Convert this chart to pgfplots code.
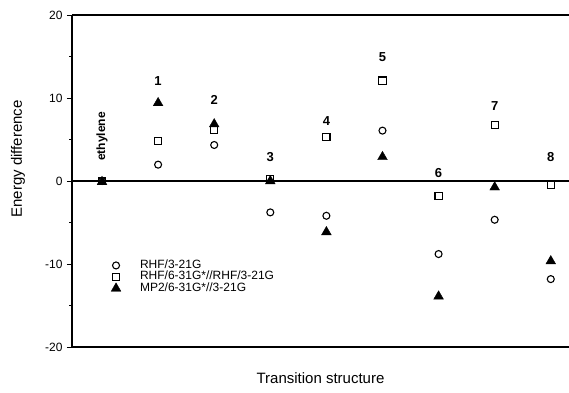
\documentclass[border=0pt]{standalone}
\usepackage{pgfplots}
\pgfplotsset{compat=1.18}
\usepackage{fontspec}
\setmainfont{Liberation Sans}
\begin{document}
\begin{tikzpicture}
\begin{axis}[
  at={(0pt,0pt)}, anchor=south west,
  scale only axis, width=497pt, height=332pt,
  xmin=-0.535, xmax=8.325, ymin=-20, ymax=20,
  axis x line=box, axis y line=left,
  axis line style={-, line width=1.1pt},
  xtick=\empty,
  ytick={-20,-10,0,10,20},
  yticklabels={-20,-10,0,10,20},
  minor ytick={-15,-5,5,15},
  tick align=outside,
  major tick length=5pt, minor tick length=3pt,
  every tick/.style={black, line width=0.8pt},
  yticklabel style={font=\fontsize{12}{12}\selectfont, xshift=-1pt},
  xlabel={Transition structure},
  ylabel={Energy difference},
  every axis x label/.style={at={(axis description cs:0.5,0)}, anchor=center, yshift=-31pt, font=\fontsize{15}{16}\selectfont},
  every axis y label/.style={at={(axis description cs:0,0.5)}, xshift=-54pt, yshift=22pt, rotate=90, anchor=center, font=\fontsize{15}{16}\selectfont},
  clip=false,
  legend style={draw=none, fill=none, inner sep=0pt, at={(axis description cs:0,0.211)}, anchor=west, xshift=39pt,
    font=\fontsize{12}{12}\selectfont, row sep=0pt, legend cell align=left,
    nodes={inner sep=0pt, text height=8.5pt, text depth=3pt}},
  legend image code/.code={\path[draw=none, fill=none] (-4pt,0pt) -- (24pt,0pt); \draw[#1, only marks] plot coordinates {(0pt,0pt)};},
]
\draw[line width=1.1pt] (rel axis cs:0,0.5) -- (rel axis cs:1,0.5);
\addplot[only marks, mark=o, mark size=3.5pt, mark options={line width=1.1pt, draw=black}] coordinates {
 (0,0) (1,1.97) (2,4.34) (3,-3.78) (4,-4.19) (5,6.07) (6,-8.8) (7,-4.67) (8,-11.82)};
\addlegendentry{RHF/3-21G}
\addplot[only marks, mark=square, mark size=3.6pt, mark options={line width=1.1pt, draw=black}] coordinates {
 (0,0) (1,4.79) (2,6.15) (3,0.2) (4,5.27) (5,12.1) (6,-1.81) (7,6.75) (8,-0.48)};
\addlegendentry{RHF/6-31G*//RHF/3-21G}
\addplot[only marks, mark=triangle*, mark size=5.6pt, mark options={draw=black, fill=black}] coordinates {
 (0,-0.1) (1,9.4) (2,6.85) (3,0) (4,-6.15) (5,2.9) (6,-13.9) (7,-0.75) (8,-9.65)};
\addlegendentry{MP2/6-31G*//3-21G}
\begin{scope}[every node/.style={font=\bfseries\fontsize{13}{13}\selectfont}]
\node at (axis cs:1,12.1) {1};
\node at (axis cs:2,9.8) {2};
\node at (axis cs:3,2.9) {3};
\node at (axis cs:4,7.2) {4};
\node at (axis cs:5,14.9) {5};
\node at (axis cs:6,0.96) {6};
\node at (axis cs:7,9.0) {7};
\node at (axis cs:8,2.9) {8};
\node[rotate=90, font=\bfseries\fontsize{12}{12}\selectfont] at (axis cs:0,5.36) {ethylene};
\end{scope}
\end{axis}
\pgfresetboundingbox
\path[use as bounding box] (-72pt,-45pt) rectangle (497pt,347pt);
\end{tikzpicture}
\end{document}
